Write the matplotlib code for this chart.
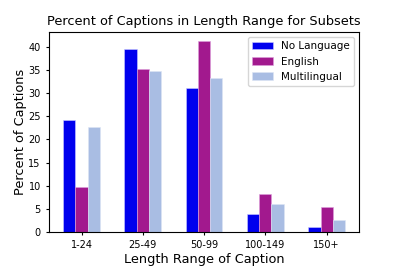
import numpy as np
import matplotlib
matplotlib.use('Agg')
import matplotlib.pyplot as plt

ranges = ['1-24', '25-49', '50-99', '100-149', '150+']
no_language = [24.2, 39.6, 31.1, 3.9, 1.1]
english = [9.8, 35.2, 41.2, 8.1, 5.4]
multilingual = [22.8, 34.9, 33.4, 6.1, 2.5]

fig, ax = plt.subplots(figsize=(3.99, 2.66), dpi=100)
fig.subplots_adjust(left=0.123, right=0.9, bottom=0.128, top=0.88)
x = np.arange(len(ranges))
w = 0.2
ax.bar(x - w, no_language, w, color='#0000ee', edgecolor='#ccccff', linewidth=0.4, label='No Language')
ax.bar(x, english, w, color='#a2198e', edgecolor='#dda0dd', linewidth=0.4, label='English')
ax.bar(x + w, multilingual, w, color='#a9bde3', edgecolor='#dde5f5', linewidth=0.4, label='Multilingual')
ax.set_xticks(x)
ax.set_xticklabels(ranges)
ax.tick_params(labelsize=7, length=2.5)
ax.set_ylabel('Percent of Captions', fontsize=9.25, labelpad=1)
ax.set_xlabel('Length Range of Caption', fontsize=9.25, labelpad=2)
ax.set_title('Percent of Captions in Length Range for Subsets', fontsize=9.3, pad=5)
ax.legend(fontsize=7.5, loc='upper right')
fig.savefig('out.png', dpi=100)
